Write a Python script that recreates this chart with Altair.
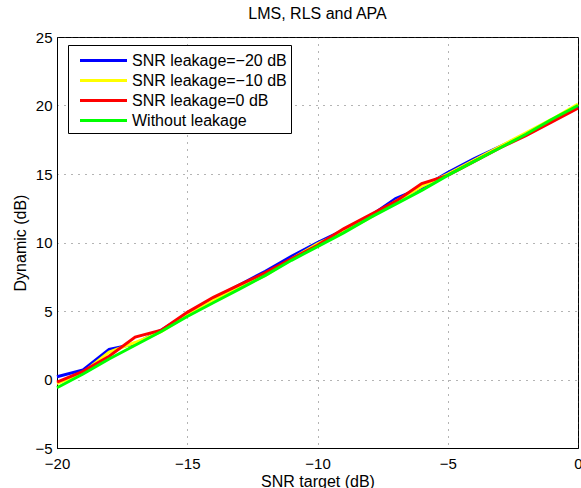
import altair as alt
import pandas as pd

snr_target = list(range(-20, 1))
series_names = ["SNR leakage=\u221220 dB", "SNR leakage=\u221210 dB", "SNR leakage=0 dB", "Without leakage"]
series_colors = ["#0000ff", "#ffff00", "#ff0000", "#00ff00"]

blue_vals = [0.2, 0.7, 2.2, 2.6, 3.6, 4.8, 5.9, 6.9, 7.9, 9.0, 10.0, 10.9, 11.9, 13.2, 14.0, 15.1, 16.1, 17.0, 17.9, 18.9, 19.9]
yellow_vals = [-0.3, 0.5, 2.0, 2.7, 3.5, 4.7, 5.8, 6.7, 7.6, 8.8, 9.9, 10.8, 11.8, 13.0, 14.1, 15.0, 16.0, 17.0, 18.0, 19.0, 20.1]
red_vals = [-0.2, 0.6, 1.7, 3.1, 3.6, 4.9, 6.0, 6.9, 7.8, 8.8, 9.8, 11.0, 12.0, 13.0, 14.3, 14.9, 15.9, 16.9, 17.8, 18.8, 19.8]
green_vals = [-0.6, 0.4, 1.5, 2.5, 3.5, 4.6, 5.6, 6.6, 7.6, 8.7, 9.7, 10.7, 11.8, 12.8, 13.8, 14.9, 15.9, 16.9, 17.9, 19.0, 20.0]

rows = []
for order, (name, vals) in enumerate(zip(series_names, [blue_vals, yellow_vals, red_vals, green_vals])):
    for x, y in zip(snr_target, vals):
        rows.append({"snr": x, "dyn": y, "series": name, "order": order})
df = pd.DataFrame(rows)

FONT = "Liberation Sans"

chart = alt.Chart(df).mark_line(strokeWidth=3).encode(
    x=alt.X("snr:Q", scale=alt.Scale(domain=[-20, 0], nice=False),
            axis=alt.Axis(values=[-20, -15, -10, -5, 0], title="SNR target (dB)", format="d")),
    y=alt.Y("dyn:Q", scale=alt.Scale(domain=[-5, 25], nice=False),
            axis=alt.Axis(values=[-5, 0, 5, 10, 15, 20, 25], title="Dynamic (dB)", format="d")),
    color=alt.Color("series:N", scale=alt.Scale(domain=series_names, range=series_colors),
                    legend=alt.Legend(title=None, orient="none", legendX=11, legendY=8,
                                      symbolType="M-2.35,0H2.35", symbolSize=400, symbolStrokeWidth=3,
                                      symbolOffset=20,
                                      rowPadding=-3, labelFontSize=16, labelFont=FONT,
                                      strokeColor="black", fillColor="white", padding=4,
                                      labelOffset=17, labelColor="black", labelLimit=300)),
    order=alt.Order("order:Q"),
    detail="series:N",
).properties(
    width=521, height=411,
    title=alt.TitleParams("LMS, RLS and APA", fontSize=16, fontWeight="normal", font=FONT, offset=8, color="black"),
    autosize=alt.AutoSizeParams(type="none"),
    padding={"left": 57, "top": 37, "right": 3, "bottom": 40},
).configure_view(
    stroke="black", strokeWidth=1
).configure_axis(
    labelFont=FONT, labelFontSize=15, labelColor="black", labelFlush=False,
    titleFont=FONT, titleFontSize=16, titleFontWeight="normal", titleColor="black",
    domainColor="black", ticks=False, grid=True, gridColor="#444444",
    gridDash=[1, 6], gridOpacity=0.8,
).configure_axisX(labelPadding=8, titlePadding=2).configure_axisY(labelPadding=5, titlePadding=6)

chart.save("out.html", embed_options={"renderer": "svg", "actions": False})
